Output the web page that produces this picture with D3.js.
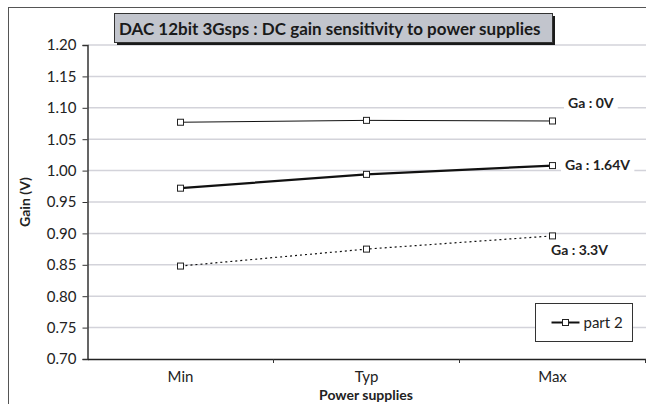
<!DOCTYPE html>
<html>
<head>
<meta charset="utf-8">
<script src="https://cdn.jsdelivr.net/npm/d3@7"></script>
<style>
  body { margin: 0; background: #fff; }
  svg { display: block; font-family: Lato, "Open Sans", sans-serif; }
</style>
</head>
<body>
<div id="chart"></div>
<script>
// categories on the x axis
const categories = ["Min", "Typ", "Max"];

// series values (Gain in V)
const gain0V   = [1.077, 1.080, 1.079];
const gain164V = [0.972, 0.994, 1.008];
const gain33V  = [0.848, 0.875, 0.896];

const seriesNames = ["Ga : 0V", "Ga : 1.64V", "Ga : 3.3V"];

// tick labels on the y axis
const yTicks = [0.70, 0.75, 0.80, 0.85, 0.90, 0.95, 1.00, 1.05, 1.10, 1.15, 1.20];

const legendLabel = "part 2";
const chartTitle = "DAC 12bit 3Gsps : DC gain sensitivity to power supplies";

const W = 646, H = 404;

const svg = d3.select("#chart").append("svg")
    .attr("width", W)
    .attr("height", H);

// outer chart border (only top and left visible)
svg.append("rect")
    .attr("x", 8.5).attr("y", 7.5)
    .attr("width", 800).attr("height", 600)
    .attr("fill", "none")
    .attr("stroke", "#555")
    .attr("stroke-width", 1);

// cut-off caption above the chart, only its descenders show
svg.append("text")
    .attr("x", 330).attr("y", -3)
    .attr("font-size", 15).attr("font-weight", "bold")
    .attr("fill", "#222")
    .text("DC gain sensitivity to power supplies");

// scales
const x = d3.scaleBand()
    .domain(categories)
    .range([87.5, 645.5]);

const y = d3.scaleLinear()
    .domain([0.70, 1.20])
    .range([359, 45]);

// grid lines
svg.append("g")
    .selectAll("line")
    .data(yTicks.slice(1))
    .join("line")
    .attr("x1", 88).attr("x2", W)
    .attr("y1", d => y(d)).attr("y2", d => y(d))
    .attr("stroke", "#d3d3da")
    .attr("stroke-width", 1.5);

// y axis
const yAxis = svg.append("g")
    .attr("transform", "translate(87.5,0)")
    .call(d3.axisLeft(y).tickValues(yTicks).tickFormat(d3.format(".2f")).tickSize(5).tickPadding(6));
yAxis.select(".domain").attr("stroke", "#333").attr("stroke-width", 1.5);
yAxis.selectAll(".tick line").attr("stroke", "#333");
yAxis.selectAll("text")
    .attr("font-family", "Lato, sans-serif")
    .attr("font-size", 15)
    .attr("fill", "#222");

// x axis
const xAxis = svg.append("g")
    .attr("transform", "translate(0,359)")
    .call(d3.axisBottom(x).tickSize(0).tickPadding(12));
xAxis.select(".domain").attr("stroke", "#222").attr("stroke-width", 1.5);
xAxis.selectAll("text")
    .attr("font-family", "Lato, sans-serif")
    .attr("font-size", 15)
    .attr("fill", "#222");
// tick marks between categories
xAxis.append("g")
    .selectAll("line")
    .data(categories)
    .join("line")
    .attr("x1", d => x(d) + x.bandwidth())
    .attr("x2", d => x(d) + x.bandwidth())
    .attr("y1", 0).attr("y2", 4)
    .attr("stroke", "#333");

// axis titles
svg.append("text")
    .attr("x", 366).attr("y", 400)
    .attr("text-anchor", "middle")
    .attr("font-size", 14).attr("font-weight", "bold")
    .attr("fill", "#222")
    .text("Power supplies");

svg.append("text")
    .attr("transform", "translate(30,202) rotate(-90)")
    .attr("text-anchor", "middle")
    .attr("font-size", 14).attr("font-weight", "bold")
    .attr("fill", "#222")
    .text("Gain (V)");

// series
const series = [
    { name: seriesNames[0], values: gain0V,   width: 1.0, dash: null,  lx: 568, ly: 108 },
    { name: seriesNames[1], values: gain164V, width: 2.2, dash: null,  lx: 565, ly: 170 },
    { name: seriesNames[2], values: gain33V,  width: 1.2, dash: "2,3", lx: 551, ly: 255 }
];

const cx = d => x(d) + x.bandwidth() / 2;

const line = d3.line()
    .x(d => cx(d.cat))
    .y(d => y(d.v));

// series labels with white background
series.forEach(s => {
    const g = svg.append("g");
    const bg = g.append("rect").attr("fill", "#fff");
    const t = g.append("text")
        .attr("x", s.lx).attr("y", s.ly)
        .attr("font-size", 14).attr("font-weight", "bold")
        .attr("fill", "#222")
        .text(s.name);
    const bb = t.node().getBBox();
    bg.attr("x", bb.x - 4).attr("y", bb.y)
        .attr("width", bb.width + 8).attr("height", bb.height);
});

series.forEach(s => {
    const pts = s.values.map((v, i) => ({ cat: categories[i], v: v }));
    svg.append("path")
        .datum(pts)
        .attr("d", line)
        .attr("fill", "none")
        .attr("stroke", "#111")
        .attr("stroke-width", s.width)
        .attr("stroke-dasharray", s.dash);

    svg.append("g")
        .selectAll("rect")
        .data(pts)
        .join("rect")
        .attr("x", d => cx(d.cat) - 3)
        .attr("y", d => y(d.v) - 3)
        .attr("width", 6).attr("height", 6)
        .attr("fill", "#fff")
        .attr("stroke", "#222")
        .attr("stroke-width", 1);
});

// legend
const legend = svg.append("g").attr("transform", "translate(535.5,303.5)");
legend.append("rect")
    .attr("width", 97).attr("height", 38)
    .attr("fill", "#fff")
    .attr("stroke", "#333");
legend.append("line")
    .attr("x1", 16).attr("x2", 44)
    .attr("y1", 19).attr("y2", 19)
    .attr("stroke", "#111").attr("stroke-width", 2);
legend.append("rect")
    .attr("x", 27).attr("y", 16)
    .attr("width", 6).attr("height", 6)
    .attr("fill", "#fff").attr("stroke", "#222");
legend.append("text")
    .attr("x", 48).attr("y", 24)
    .attr("font-size", 15)
    .attr("fill", "#222")
    .text(legendLabel);

// title box with shadow
const tg = svg.append("g");
tg.append("rect")
    .attr("x", 117).attr("y", 16)
    .attr("width", 438).attr("height", 29)
    .attr("fill", "#1a1a1a");
tg.append("rect")
    .attr("x", 114.5).attr("y", 13.5)
    .attr("width", 438).attr("height", 29)
    .attr("fill", "#c2c5cd")
    .attr("stroke", "#333");
const title = tg.append("text")
    .attr("x", 119).attr("y", 34.5)
    .attr("font-size", 17).attr("font-weight", "bold")
    .attr("fill", "#1a1a1a")
    .text(chartTitle);
// squeeze the title to the width of the box text area
const tw = title.node().getComputedTextLength();
if (tw > 428) title.attr("textLength", 428).attr("lengthAdjust", "spacingAndGlyphs");
</script>
</body>
</html>
